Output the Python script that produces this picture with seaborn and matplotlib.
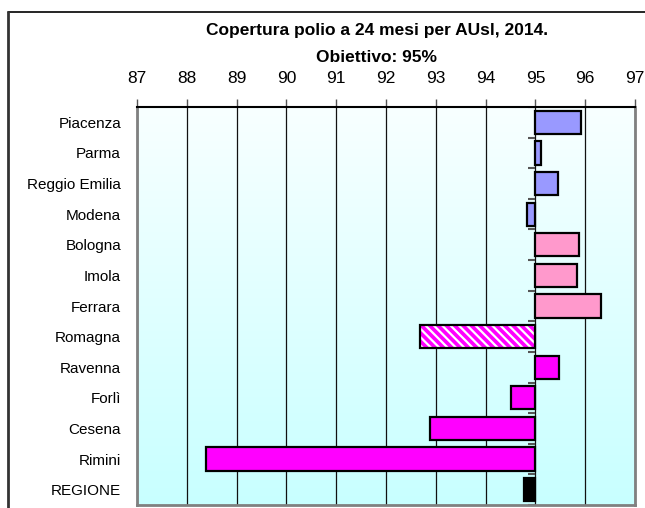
import numpy as np
import pandas as pd
import matplotlib
matplotlib.use("Agg")
import matplotlib.pyplot as plt
import seaborn as sns
from matplotlib.lines import Line2D
from matplotlib.patches import Rectangle
from matplotlib.ticker import FixedLocator, FuncFormatter

# ---- data ----
categories = ["Piacenza", "Parma", "Reggio Emilia", "Modena", "Bologna", "Imola",
              "Ferrara", "Romagna", "Ravenna", "Forlì", "Cesena", "Rimini", "REGIONE"]
coverage = [95.91, 95.11, 95.45, 94.83, 95.87, 95.83,
            96.32, 92.69, 95.48, 94.50, 92.89, 88.39, 94.78]
bar_colors = ["#9999FF", "#9999FF", "#9999FF", "#9999FF", "#FF99CC", "#FF99CC",
              "#FF99CC", "#FF00FF", "#FF00FF", "#FF00FF", "#FF00FF", "#FF00FF", "#000000"]
target = 95
tick_values = list(range(87, 98))
title_line1 = "Copertura polio a 24 mesi per AUsl, 2014."
title_line2 = "Obiettivo: 95%"
hatched_category = "Romagna"

df = pd.DataFrame({"AUSL": categories, "delta": np.array(coverage) - target})

sns.set_theme(style="white")
plt.rcParams["font.family"] = ["Liberation Sans", "DejaVu Sans"]
plt.rcParams["hatch.linewidth"] = 1.6
plt.rcParams["text.color"] = "black"
plt.rcParams["xtick.color"] = "black"
plt.rcParams["ytick.color"] = "black"

W, H = 645, 508
fig = plt.figure(figsize=(W / 100, H / 100), dpi=100)
fig.patch.set_facecolor("white")
ax = fig.add_axes([137 / W, 3 / H, 498 / W, 398 / H])

# gradient background
grad = np.linspace(0, 1, 256)[:, None]
top = np.array([248, 255, 255]) / 255
bot = np.array([200, 255, 255]) / 255
img = top[None, None, :] * (1 - grad[:, :, None]) + bot[None, None, :] * grad[:, :, None]
ax.imshow(img, extent=[0, 1, 0, 1], transform=ax.transAxes, aspect="auto", zorder=0)

sns.barplot(data=df, y="AUSL", x="delta", hue="AUSL", order=categories,
            palette=dict(zip(categories, bar_colors)), legend=False,
            orient="h", width=0.76, edgecolor="black", linewidth=1.6,
            saturation=1, ax=ax, zorder=3)

# hatched bar
idx = categories.index(hatched_category)
p = ax.patches[idx]
p.set_hatch("\\\\\\\\")
p.set_edgecolor("white")
p.set_linewidth(0)
ax.add_patch(Rectangle(p.get_xy(), p.get_width(), p.get_height(), fill=False,
                       edgecolor="black", linewidth=1.6, zorder=4))

ax.set_xlim(tick_values[0] - target, tick_values[-1] - target)
ax.set_ylim(len(categories) - 0.5, -0.5)
ax.xaxis.set_major_locator(FixedLocator([t - target for t in tick_values]))
ax.xaxis.set_major_formatter(FuncFormatter(lambda v, pos: f"{v + target:.0f}"))
ax.xaxis.tick_top()
ax.tick_params(axis="x", which="major", direction="out", length=6, width=1,
               color="#555555", labelsize=12.5, pad=9, labelcolor="black")
ax.tick_params(axis="y", length=0, labelsize=11, pad=11.5, labelcolor="black")
ax.set_xlabel("")
ax.set_ylabel("")

ax.set_axisbelow(True)
ax.xaxis.grid(True, color="#111111", linewidth=0.9)
ax.yaxis.grid(False)

for s in ["left", "right", "bottom"]:
    ax.spines[s].set_color("#808080")
    ax.spines[s].set_linewidth(2)
ax.spines["top"].set_color("black")
ax.spines["top"].set_linewidth(1.5)

# small ticks along the target line
for b in np.arange(-0.5, len(categories), 1.0):
    ax.plot([-0.14, 0], [b, b], color="#555555", linewidth=1.5, zorder=2,
            solid_capstyle="butt")

fig.text(377 / W, 1 - 31 / H, title_line1, ha="center", va="center",
         fontsize=12.5, fontweight="bold", color="black")
fig.text(377 / W, 1 - 57 / H, title_line2, ha="center", va="center",
         fontsize=12.5, fontweight="bold", color="black")

# chart frame
fig.add_artist(Line2D([8 / W, 1], [1 - 12 / H, 1 - 12 / H], color="black", linewidth=1.2,
                      transform=fig.transFigure))
fig.add_artist(Line2D([8 / W, 8 / W], [0, 1 - 12 / H], color="#333333", linewidth=2,
                      transform=fig.transFigure))

fig.savefig("out.png", dpi=100)
